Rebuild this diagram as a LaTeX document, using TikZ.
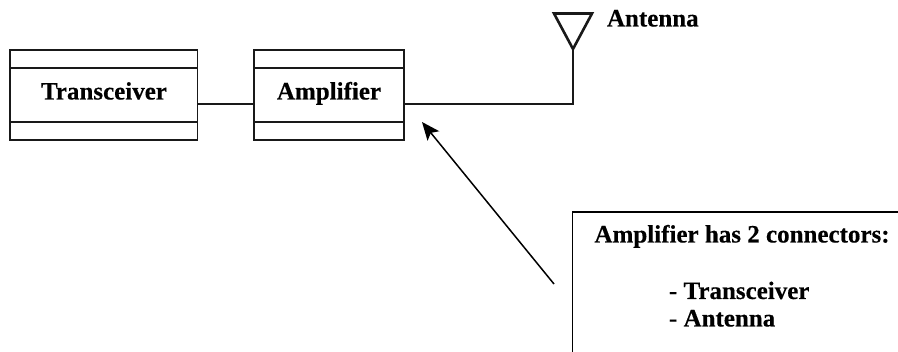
\documentclass[tikz,border=0pt]{standalone}
\usepackage{fontspec}
\setmainfont[BoldFeatures={FakeBold=0.35}]{Liberation Serif}
\usetikzlibrary{arrows.meta}
\tikzset{
  x=1pt,y=-1pt,
  comp/.style={draw=black!90,line width=1.7pt,inner sep=0pt,outer sep=0pt,minimum height=#1,anchor=north west},
  lbl/.style={font=\fontsize{25}{28}\selectfont\bfseries,inner sep=0pt,outer sep=0pt,text=black},
  wire/.style={draw=black!90,line width=2.6pt},
  pointer/.style={draw=black,line width=1.5pt,-{Stealth[length=18pt,width=15pt,inset=4pt]}},
  frame/.style={draw=black,line width=1.5pt}
}
\begin{document}
\begin{tikzpicture}
\path[use as bounding box,fill=white] (0,0) rectangle (898,352);
% Transceiver
\node[comp=18pt,minimum width=187.5pt] (ttop) at (10,50) {};
\node[comp=54pt,minimum width=187.5pt] (tmid) at (10,68) {};
\node[comp=18pt,minimum width=187.5pt] (tbot) at (10,122) {};
\node[lbl,anchor=base] (tlabel) at (104,99.5) {Transceiver};
% Amplifier
\node[comp=18pt,minimum width=150pt] (atop) at (254,50) {};
\node[comp=54pt,minimum width=150pt] (amid) at (254,68) {};
\node[comp=18pt,minimum width=150pt] (abot) at (254,122) {};
\node[lbl,anchor=base] (alabel) at (329,99.5) {Amplifier};
% Antenna
\coordinate (apexpt) at (573,49);
\coordinate (antl) at (554,13.5);
\coordinate (antr) at (592,13.5);
\draw[wire,line join=miter] (antl) -- (antr) -- (apexpt) -- cycle;
\node[lbl,anchor=base west] (antlabel) at (607,26.5) {Antenna};
% Connectors
\draw[wire] ([yshift=-9pt]tmid.east) -- ([yshift=-9pt]amid.west);
\draw[wire,line join=miter] ([yshift=-9pt]amid.east) -| (apexpt);
% Callout
\coordinate (cr) at (898,212);
\coordinate (ctl) at (572.5,212);
\coordinate (cb) at (572.5,352);
\draw[frame] (cr) -- (ctl) -- (cb);
\node[lbl,anchor=base west] (c1) at (594.5,242.5) {Amplifier has 2 connectors:};
\node[lbl,anchor=base west] (c2) at (669,299) {- Transceiver};
\node[lbl,anchor=base west] (c3) at (669,326.5) {- Antenna};
\coordinate (pstart) at (554,284);
\coordinate (pend) at (422,122);
\draw[pointer] (pstart) -- (pend);
\end{tikzpicture}
\end{document}
